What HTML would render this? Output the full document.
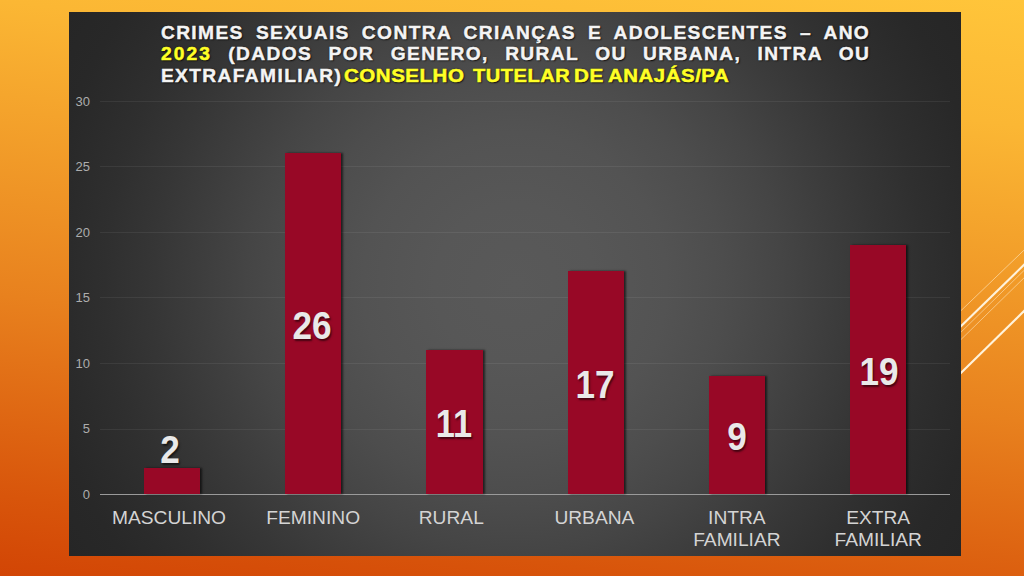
<!DOCTYPE html>
<html lang="pt-BR">
<head>
<meta charset="utf-8">
<title>Crimes sexuais contra crianças e adolescentes – 2023</title>
<style>
html,body{margin:0;padding:0;}
body{width:1024px;height:576px;overflow:hidden;position:relative;
  font-family:"Liberation Sans",sans-serif;
  background:linear-gradient(187deg,rgb(255,197,58) 0%,rgb(251,183,52) 18%,rgb(232,129,30) 60%,rgb(216,85,11) 88.6%,rgb(210,69,5) 100%);}
#deco{position:absolute;left:0;top:0;width:1024px;height:576px;}
#panel{position:absolute;left:69px;top:12px;width:891.5px;height:544px;
  background:radial-gradient(circle 522px at 445.75px 272px,rgb(89,89,89) 0.0%,rgb(87,87,87) 15.3%,rgb(83,83,83) 29.1%,rgb(77,77,77) 40.2%,rgb(69,69,69) 51.3%,rgb(62,62,62) 59.4%,rgb(54,54,54) 69.0%,rgb(47,47,47) 78.5%,rgb(43,43,43) 85.4%,rgb(40,40,40) 91.2%,rgb(38,38,38) 100.0%);
  background-origin:border-box;}
.abs{position:absolute;}
/* title */
.tl{position:absolute;left:160.9px;width:709.3px;height:22px;line-height:22px;white-space:nowrap;
  font-weight:bold;font-size:19.2px;letter-spacing:1.38px;color:#f4f4f4;-webkit-text-stroke:0.45px #f4f4f4;
  text-shadow:1px 1px 1.5px rgba(0,0,0,.8),0 0 2px rgba(0,0,0,.55);}
.tl.j{text-align:justify;text-align-last:justify;white-space:normal;}
.y{color:#ffff26;-webkit-text-stroke:0.55px #ffff26;}
.y4{letter-spacing:2.1px;}
.blk{position:absolute;top:64.8px;height:22px;line-height:22px;white-space:nowrap;font-weight:bold;font-size:19.2px;
  letter-spacing:0.5px;transform-origin:0 50%;
  text-shadow:1px 1px 1.5px rgba(0,0,0,.8),0 0 2px rgba(0,0,0,.55);}
/* grid */
.g{position:absolute;left:100px;width:849.6px;height:1px;background:rgba(255,255,255,.065);}
.g.ax{background:#9a9a9a;height:1.2px;}
.yl{position:absolute;left:60px;width:30px;text-align:right;font-size:13px;line-height:14px;height:14px;color:#adadad;}
/* bars */
.bar{position:absolute;width:56.4px;background:#980826;box-shadow:1.8px 0.3px 2px rgba(0,0,0,.6);}
.dl{position:absolute;width:80px;text-align:center;font-weight:bold;font-size:39px;line-height:40px;height:40px;color:#e9e9e9;
  text-shadow:1.5px 1.5px 2px rgba(0,0,0,.55);transform:scaleX(.9);}
.cl{position:absolute;width:141px;text-align:center;font-size:19.2px;line-height:22.4px;color:#d4d4d4;}
</style>
</head>
<body>
<svg id="deco" viewBox="0 0 1024 576">
  <g fill="none" stroke-linecap="butt">
    <line x1="955" y1="316.4" x2="1030" y2="244.4" stroke="#ffe9c4" stroke-opacity=".75" stroke-width="0.8"/>
    <line x1="955" y1="332.0" x2="1030" y2="259.0" stroke="#fff3dc" stroke-width="2.1"/>
    <line x1="955" y1="338.0" x2="1030" y2="264.6" stroke="#ffe9c4" stroke-opacity=".7" stroke-width="0.8"/>
    <line x1="955" y1="345.4" x2="1030" y2="272.0" stroke="#ffe9c4" stroke-opacity=".7" stroke-width="0.8"/>
    <line x1="955" y1="378.8" x2="1030" y2="305.2" stroke="#fff3dc" stroke-width="2.1"/>
  </g>
</svg>

<div id="panel"></div>

<div class="tl j" style="top:21.6px">CRIMES SEXUAIS CONTRA CRIANÇAS E ADOLESCENTES – ANO</div>
<div class="tl j" style="top:43.2px"><span class="y y4">2023</span> (DADOS POR GENERO, RURAL OU URBANA, INTRA OU</div>
<div class="tl" style="top:64.8px">EXTRAFAMILIAR)</div>
<div class="blk y" style="left:344.4px;transform:scaleX(1.068)">CONSELHO</div>
<div class="blk y" style="left:472.6px;transform:scaleX(1.045)">TUTELAR</div>
<div class="blk y" style="left:573.9px;transform:scaleX(1.075)">DE</div>
<div class="blk y" style="left:608.4px;transform:scaleX(1.064)">ANAJÁS/PA</div>

<!-- gridlines -->
<div class="g" style="top:100.9px"></div>
<div class="g" style="top:166.4px"></div>
<div class="g" style="top:231.9px"></div>
<div class="g" style="top:297.4px"></div>
<div class="g" style="top:362.9px"></div>
<div class="g" style="top:428.9px"></div>
<div class="g ax" style="top:493.9px"></div>

<div class="yl" style="top:94.5px">30</div>
<div class="yl" style="top:160px">25</div>
<div class="yl" style="top:225.5px">20</div>
<div class="yl" style="top:291px">15</div>
<div class="yl" style="top:356.5px">10</div>
<div class="yl" style="top:422px">5</div>
<div class="yl" style="top:487.5px">0</div>

<!-- bars -->
<div class="bar" style="left:143.8px;top:468px;height:26.4px"></div>
<div class="bar" style="left:285.1px;top:153px;height:341.4px"></div>
<div class="bar" style="left:426.2px;top:350px;height:144.4px"></div>
<div class="bar" style="left:567.5px;top:271px;height:223.4px"></div>
<div class="bar" style="left:709.0px;top:376px;height:118.4px"></div>
<div class="bar" style="left:850.1px;top:245px;height:249.4px"></div>

<!-- data labels -->
<div class="dl" style="left:130.3px;top:430px">2</div>
<div class="dl" style="left:272.4px;top:306.2px">26</div>
<div class="dl" style="left:413.7px;top:403.6px;transform:scaleX(.88)">11</div>
<div class="dl" style="left:555.2px;top:364.5px">17</div>
<div class="dl" style="left:697px;top:417px">9</div>
<div class="dl" style="left:838.6px;top:351.7px">19</div>

<!-- category labels -->
<div class="cl" style="left:98.5px;top:506.7px">MASCULINO</div>
<div class="cl" style="left:242.7px;top:506.7px">FEMININO</div>
<div class="cl" style="left:380.8px;top:506.7px">RURAL</div>
<div class="cl" style="left:523.9px;top:506.7px">URBANA</div>
<div class="cl" style="left:666.4px;top:506.7px">INTRA<br>FAMILIAR</div>
<div class="cl" style="left:807.7px;top:506.7px">EXTRA<br>FAMILIAR</div>
</body>
</html>
